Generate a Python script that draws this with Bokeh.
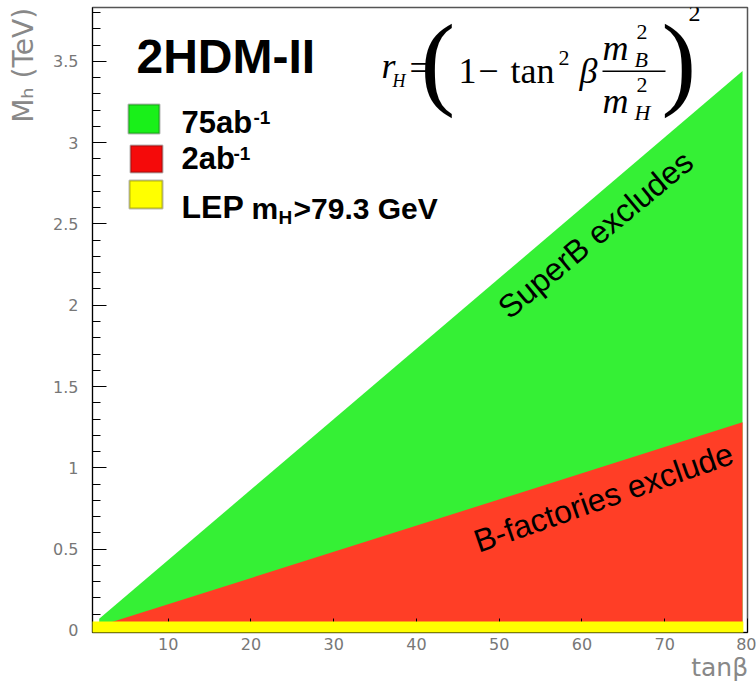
import math
from bokeh.plotting import figure
from bokeh.models import Label, BoxAnnotation, Range1d, FixedTicker
from bokeh.embed import file_html
from bokeh.resources import INLINE

# ---------------- data ----------------
tanb_edge = [1.67, 79.4]          # tan(beta) where the excluded bands start / end
mh_superb = [0.072, 3.44]         # SuperB (75 ab^-1) excluded up to M_H (TeV)
mh_bfactories = [0.027, 1.28]     # B-factories (2 ab^-1) excluded up to M_H (TeV)
lep_tanb = [0.86, 79.5]           # LEP band extent in tan(beta)
lep_mh = [0.055, 0.055]           # LEP band top (TeV)

x_ticks = [10, 20, 30, 40, 50, 60, 70, 80]
x_tick_labels = ["10", "20", "30", "40", "50", "60", "70", "80"]
y_ticks = [0, 0.5, 1, 1.5, 2, 2.5, 3, 3.5]
y_tick_labels = ["0", "0.5", "1", "1.5", "2", "2.5", "3", "3.5"]
y_minor = [round(i * 0.1, 1) for i in range(39) if i % 5 != 0]

XMIN, XMAX = 0.86, 80.0
YMIN, YMAX = -0.0123, 3.831

# page-pixel -> data helpers (for annotation placement only)
PX_L, PX_R, PX_T, PX_B = 92, 747, 7, 632


def fx(px):
    return XMIN + (px - PX_L) * (XMAX - XMIN) / (PX_R - PX_L)


def fy(py):
    return YMAX - (py - PX_T) * (YMAX - YMIN) / (PX_B - PX_T)


p = figure(width=756, height=686, output_backend="svg", toolbar_location=None,
           x_range=Range1d(XMIN, XMAX), y_range=Range1d(YMIN, YMAX),
           min_border_left=PX_L, min_border_right=756 - PX_R, min_border_top=PX_T,
           min_border_bottom=686 - PX_B)
p.grid.visible = False
p.outline_line_color = "#555555"
p.outline_line_width = 1.5
p.background_fill_color = "white"
p.border_fill_color = "white"

GREEN = "#35F035"
RED = "#FF3E26"
YELLOW = "#FFFF00"
GRAY = "#888888"

p.varea(x=tanb_edge, y1=0, y2=mh_superb, fill_color=GREEN, fill_alpha=1)
p.varea(x=tanb_edge, y1=0, y2=mh_bfactories, fill_color=RED, fill_alpha=1)
p.varea(x=lep_tanb, y1=YMIN, y2=lep_mh, fill_color=YELLOW, fill_alpha=1,
        level="overlay")

NBSP = "\u00a0"
# axis titles sit at the axis end; the label is centred there, so it is padded
# on its far side with non-breaking spaces of equal width to right-justify it.
x_title = "tanβ"
y_title = "M\u2095 (TeV)"

# axes
xa = p.xaxis[0]
xa.ticker = FixedTicker(ticks=x_ticks)
xa.major_label_overrides = {t: l for t, l in zip(x_ticks, x_tick_labels)}
xa.major_tick_in = 14
xa.major_tick_out = 0
xa.minor_tick_in = 0
xa.minor_tick_out = 0
xa.major_tick_line_color = "black"
xa.axis_line_color = "black"
xa.major_label_standoff = 5
xa.major_label_text_font = "DejaVu Sans"
xa.major_label_text_font_size = "16px"
xa.major_label_text_color = "#777777"
xa.axis_label_standoff = 0
xa.axis_label_text_font = "DejaVu Sans"
xa.axis_label_text_font_size = "25px"
xa.axis_label_text_font_style = "normal"
xa.axis_label_text_color = GRAY

ya = p.yaxis[0]
ya.ticker = FixedTicker(ticks=y_ticks, minor_ticks=y_minor)
ya.major_label_overrides = {t: l for t, l in zip(y_ticks, y_tick_labels)}
ya.major_tick_in = 14
ya.major_tick_out = 0
ya.minor_tick_in = 8
ya.minor_tick_out = 0
ya.major_tick_line_color = "black"
ya.minor_tick_line_color = "black"
ya.axis_line_color = "black"
ya.major_label_standoff = 14
ya.major_label_text_font = "DejaVu Sans"
ya.major_label_text_font_size = "16px"
ya.major_label_text_color = "#777777"
ya.axis_label_standoff = 10
ya.axis_label_text_font = "DejaVu Sans"
ya.axis_label_text_font_size = "28px"
ya.axis_label_text_font_style = "normal"
ya.axis_label_text_color = GRAY

if "axis_label_align" in type(xa).properties():
    xa.axis_label_align = "end"
    ya.axis_label_align = "end"
    xa.axis_label = x_title + NBSP * 7
    ya.axis_label = y_title + NBSP * 13
else:
    xa.axis_label = x_title
    ya.axis_label = y_title

MID = {"Liberation Sans": 0.3465, "Liberation Serif": 0.3375, "DejaVu Sans": 0.346}


def lbl(text, px, py, size, font="Liberation Sans", style="normal",
        color="black", align="left", angle=0, mid=False):
    # (px, py): point on the text baseline (or its middle if mid=True), page pixels
    if not mid:
        k = MID[font] * size
        a = math.radians(angle)
        px = px - k * math.sin(a)
        py = py - k * math.cos(a)
    p.add_layout(Label(x=fx(px), y=fy(py), text=text, text_font=font,
                       text_font_size=f"{size}px", text_font_style=style,
                       text_color=color, text_align=align, text_baseline="middle",
                       angle=angle, angle_units="deg"))


# title
lbl("2HDM-II", 136, 73, 48, style="bold")

# legend
for (l, r, t, b, c) in [(128, 159, 104, 133, "#19F019"),
                        (130, 162, 145, 172, "#F50A0A"),
                        (129, 162, 180, 208, YELLOW)]:
    p.add_layout(BoxAnnotation(left=fx(l), right=fx(r), top=fy(t), bottom=fy(b),
                               fill_color=c, fill_alpha=1, line_color="#111111",
                               line_width=2))
lbl("75ab", 181, 133, 31, style="bold")
lbl("-1", 253, 124, 19, style="bold")
lbl("2ab", 181, 169, 31, style="bold")
lbl("-1", 233, 160, 19, style="bold")
lbl("LEP", 181, 218, 32, style="bold")
lbl("m", 251, 218, 30, style="bold")
lbl("H", 278, 224, 19, style="bold")
lbl(">79.3 GeV", 293, 218, 30, style="bold")

# formula  r_H = (1 - tan^2 beta m_B^2 / m_H^2)^2
SERIF = "Liberation Serif"
lbl("r", 381, 78, 36, font=SERIF, style="italic")
lbl("H", 392, 87, 18, font=SERIF, style="italic")
lbl("=", 409, 80, 36, font=SERIF)
lbl("(", 420, 95, 104, font=SERIF)
lbl("1", 458, 83, 36, font=SERIF)
lbl("\u2212", 488, 83, 36, font=SERIF, align="center")
lbl("tan", 510, 83, 36, font=SERIF)
lbl("2", 558, 65, 22, font=SERIF)
lbl("β", 579, 83, 36, font=SERIF, style="italic")
lbl("m", 602, 60, 36, font=SERIF, style="italic")
lbl("2", 636, 39, 22, font=SERIF)
lbl("B", 634, 66, 22, font=SERIF, style="italic")
p.add_layout(BoxAnnotation(left=fx(602), right=fx(665), top=fy(70), bottom=fy(71.5),
                           fill_color="black", fill_alpha=1, line_alpha=0))
lbl("m", 602, 113, 36, font=SERIF, style="italic")
lbl("2", 636, 92, 22, font=SERIF)
lbl("H", 634, 119, 22, font=SERIF, style="italic")
lbl(")", 661, 95, 104, font=SERIF)
lbl("2", 688, 21, 24, font=SERIF)

# region annotations
lbl("SuperB excludes", 595, 234, 32, angle=39.7, align="center", mid=True)
lbl("B-factories exclude", 603, 497, 32, angle=19.3, align="center", mid=True)

open("out.html", "w").write(file_html(p, INLINE))
